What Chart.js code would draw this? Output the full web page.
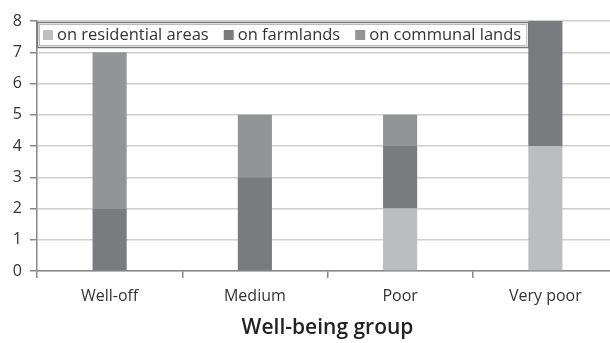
<!DOCTYPE html>
<html>
<head>
<meta charset="utf-8">
<script src="https://cdn.jsdelivr.net/npm/chart.js@4"></script>
<style>
  body { margin: 0; background: #fff; overflow: hidden; }
  #wrap { width: 620px; height: 343px; position: relative; }
</style>
</head>
<body>
<div id="wrap"><canvas id="myChart"></canvas></div>
<script>
var groups = ['Well-off', 'Medium', 'Poor', 'Very poor'];
var residential = [0, 0, 2, 4];
var farmlands = [2, 3, 2, 4];
var communal = [5, 2, 1, 0];
var yTicks = [0, 1, 2, 3, 4, 5, 6, 7, 8];

var FONT = '"Open Sans", "Noto Sans", sans-serif';

// legend drawn as a boxed row inside the top of the plot area
var boxLegend = {
    id: 'boxLegend',
    afterDraw: function (chart) {
        var ctx = chart.ctx, a = chart.chartArea;
        var x0 = a.left, y0 = a.top + 1, h = 25;
        ctx.save();
        ctx.font = '16.5px ' + FONT;
        ctx.textBaseline = 'middle';
        var items = chart.data.datasets.map(function (d) {
            return { text: d.label, color: d.backgroundColor };
        });
        var w = 5;
        items.forEach(function (it) { w += 15 + ctx.measureText(it.text).width + 14; });
        w -= 7;
        ctx.fillStyle = '#fff';
        ctx.fillRect(x0, y0, w, h);
        ctx.strokeStyle = '#777';
        ctx.lineWidth = 1.5;
        ctx.strokeRect(x0 + 0.5, y0 + 0.5, w, h);
        ctx.strokeStyle = '#bbb';
        ctx.lineWidth = 1;
        ctx.strokeRect(x0 + 2.5, y0 + 2.5, w - 4, h - 4);
        var x = x0 + 6;
        items.forEach(function (it) {
            ctx.fillStyle = it.color;
            ctx.fillRect(x, y0 + 8, 10, 10);
            ctx.fillStyle = '#333';
            ctx.fillText(it.text, x + 14, y0 + h / 2 + 1);
            x += 15 + ctx.measureText(it.text).width + 14;
        });
        ctx.restore();
    }
};

var ctx = document.getElementById('myChart').getContext('2d');
var myChart = new Chart(ctx, {
    type: 'bar',
    data: {
        labels: groups,
        datasets: [
            { label: 'on residential areas', data: residential, backgroundColor: '#bcbdbf' },
            { label: 'on farmlands', data: farmlands, backgroundColor: '#7a7b7e' },
            { label: 'on communal lands', data: communal, backgroundColor: '#939496' }
        ]
    },
    options: {
        responsive: true,
        maintainAspectRatio: false,
        animation: false,
        layout: { padding: { top: 21, right: 2, bottom: 0, left: 0 } },
        datasets: { bar: { categoryPercentage: 1, barPercentage: 0.235 } },
        plugins: {
            legend: { display: false },
            tooltip: { enabled: false }
        },
        scales: {
            x: {
                stacked: true,
                afterFit: function (s) { s.height = 72; },
                grid: { drawOnChartArea: false, color: '#888', tickLength: 7, lineWidth: 1.5 },
                border: { color: '#888', width: 1.5 },
                ticks: { color: '#333', font: { family: FONT, size: 16 }, padding: 9 },
                title: {
                    display: true, text: 'Well-being group', color: '#222',
                    font: { family: FONT, size: 21, weight: '600' }, padding: { top: 4, bottom: 2 }
                }
            },
            y: {
                stacked: true,
                min: 0, max: 8,
                afterBuildTicks: function (s) { s.ticks = yTicks.map(function (v) { return { value: v }; }); },
                afterFit: function (s) { s.width = 37; },
                grid: { color: '#cfcfcf', lineWidth: 1.5, tickColor: '#888', tickLength: 7 },
                border: { color: '#888', width: 1.5 },
                ticks: { color: '#333', font: { family: FONT, size: 16 }, padding: 8 }
            }
        }
    },
    plugins: [boxLegend]
});
</script>
</body>
</html>
